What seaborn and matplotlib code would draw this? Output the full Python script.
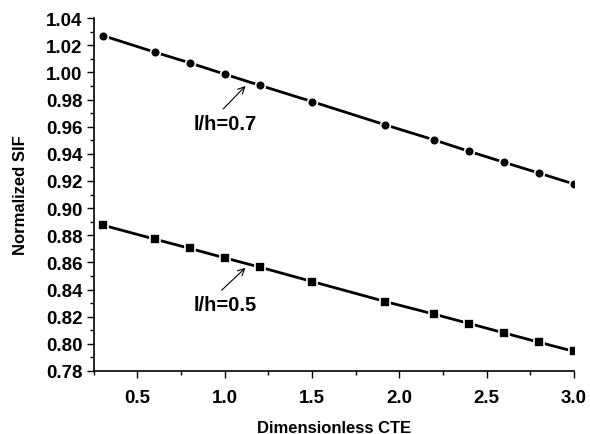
import matplotlib
matplotlib.use("Agg")
import matplotlib.pyplot as plt
from matplotlib.ticker import MultipleLocator, FormatStrFormatter
import seaborn as sns
import pandas as pd

# values
cte = [0.3, 0.6, 0.8, 1.0, 1.2, 1.5, 1.92, 2.2, 2.4, 2.6, 2.8, 3.0]
sif_07 = [1.0272, 1.0149, 1.0070, 0.9987, 0.9905, 0.9785, 0.9613, 0.9502, 0.9418, 0.9337, 0.9258, 0.9177]
sif_05 = [0.8875, 0.8771, 0.8703, 0.8633, 0.8565, 0.8459, 0.8311, 0.8218, 0.8149, 0.8080, 0.8011, 0.7944]
series_names = ["l/h=0.7", "l/h=0.5"]

df = pd.concat([
    pd.DataFrame({"cte": cte, "sif": sif_07, "case": series_names[0]}),
    pd.DataFrame({"cte": cte, "sif": sif_05, "case": series_names[1]}),
])

sns.set_theme(style="ticks")
plt.rcParams["font.family"] = ["Liberation Sans", "DejaVu Sans"]
plt.rcParams["font.weight"] = "bold"
plt.rcParams["text.color"] = "black"
plt.rcParams["axes.labelcolor"] = "black"

fig = plt.figure(figsize=(5.9, 4.35), dpi=100)
ax = fig.add_axes([0.159, 0.145, 0.814, 0.811])

sns.lineplot(data=df, x="cte", y="sif", hue="case", style="case",
             markers={series_names[0]: "o", series_names[1]: "s"}, dashes=False,
             palette={series_names[0]: "black", series_names[1]: "black"},
             linewidth=2, markersize=7, markeredgecolor="white", markeredgewidth=1.2,
             legend=False, ax=ax)

ax.set_xlim(0.25, 3.0)
ax.set_ylim(0.78, 1.04)
ax.xaxis.set_major_locator(MultipleLocator(0.5))
ax.xaxis.set_minor_locator(MultipleLocator(0.25))
ax.yaxis.set_major_locator(MultipleLocator(0.02))
ax.yaxis.set_minor_locator(MultipleLocator(0.01))
ax.xaxis.set_major_formatter(FormatStrFormatter("%.1f"))
ax.yaxis.set_major_formatter(FormatStrFormatter("%.2f"))

ax.tick_params(which="major", direction="out", length=5, width=1, colors="black", labelsize=13.5)
ax.tick_params(which="minor", direction="out", length=3, width=1, colors="black")
ax.tick_params(axis="x", which="major", pad=8)
ax.tick_params(axis="y", which="major", pad=3)
for lbl in ax.get_xticklabels() + ax.get_yticklabels():
    lbl.set_fontweight("bold")

for side in ["left", "bottom"]:
    ax.spines[side].set_color("black")
    ax.spines[side].set_linewidth(1.2)
sns.despine(ax=ax)

ax.set_xlabel("Dimensionless CTE", fontsize=12, fontweight="bold", labelpad=10)
ax.set_ylabel("Normalized SIF", fontsize=12, fontweight="bold", labelpad=13)

arrow = dict(arrowstyle="->", color="black", lw=0.8)
ax.annotate("", xy=(1.13, 0.9915), xytext=(0.98, 0.9716), arrowprops=arrow)
ax.text(1.0, 0.9627, series_names[0], ha="center", va="center", fontsize=14.5, fontweight="bold")
ax.annotate("", xy=(1.13, 0.8574), xytext=(0.97, 0.838), arrowprops=arrow)
ax.text(1.0, 0.829, series_names[1], ha="center", va="center", fontsize=14.5, fontweight="bold")

fig.savefig("out.png", dpi=100)
